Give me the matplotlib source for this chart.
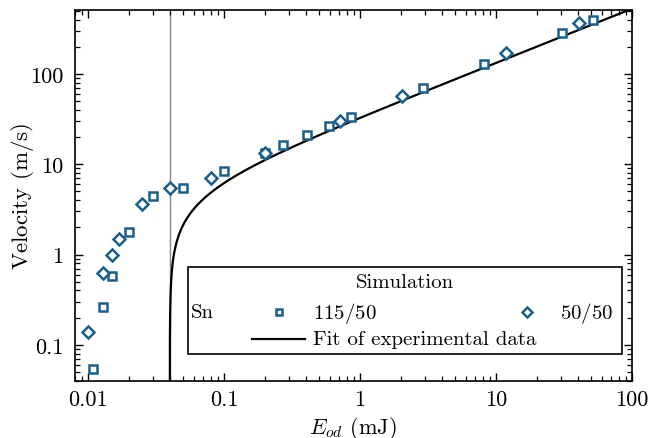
import numpy as np
import matplotlib
matplotlib.use("Agg")
import matplotlib.pyplot as plt
from matplotlib.patches import Rectangle
from matplotlib.ticker import FixedLocator, FixedFormatter, LogLocator, NullFormatter

plt.rcParams['font.family'] = 'serif'
plt.rcParams['font.serif'] = ['cmr10']
plt.rcParams['mathtext.fontset'] = 'cm'
plt.rcParams['axes.formatter.use_mathtext'] = True

# Simulation 115/50 (squares)
E_sq = [0.0109, 0.013, 0.015, 0.02, 0.03, 0.05, 0.1, 0.2, 0.27, 0.41, 0.59, 0.86, 2.9, 8.2, 30.7, 51.4]
v_sq = [0.054, 0.26, 0.58, 1.78, 4.4, 5.4, 8.4, 13.3, 16.4, 21.1, 26.4, 33.0, 69.5, 129, 284, 393]

# Simulation 50/50 (diamonds)
E_di = [0.01, 0.013, 0.015, 0.017, 0.025, 0.04, 0.081, 0.2, 0.71, 2.03, 11.9, 40.8]
v_di = [0.14, 0.63, 1.0, 1.5, 3.6, 5.4, 7.1, 13.5, 30.0, 57.5, 169, 364]

# fit of experimental data: v = A * (E - E0)^b
E0 = 0.04
A = 33.4
b = 0.6

xticks = [0.01, 0.1, 1, 10, 100]
xticklabels = ['0.01', '0.1', '1', '10', '100']
yticks = [0.1, 1, 10, 100]
yticklabels = ['0.1', '1', '10', '100']

blue = '#1a5f8c'

fig = plt.figure(figsize=(6.63, 4.39), dpi=100)
ax = fig.add_axes([0.1127, 0.1305, 0.8405, 0.845])

dE = np.geomspace(1e-9, 100, 3000)
E_fit = E0 + dE
v_fit = A * dE ** b
ax.axvline(E0, color='#888888', lw=1.0, zorder=1)
ax.plot(E_fit, v_fit, color='black', lw=1.6, zorder=2)
ax.plot(E_sq, v_sq, 's', ms=6, mfc='white', mec=blue, mew=1.8, ls='none', zorder=3)
ax.plot(E_di, v_di, 'D', ms=6, mfc='white', mec=blue, mew=1.8, ls='none', zorder=3)

ax.set_xscale('log')
ax.set_yscale('log')
ax.set_xlim(0.008, 100)
ax.set_ylim(0.04, 515)

ax.xaxis.set_major_locator(FixedLocator(xticks))
ax.xaxis.set_major_formatter(FixedFormatter(xticklabels))
ax.yaxis.set_major_locator(FixedLocator(yticks))
ax.yaxis.set_major_formatter(FixedFormatter(yticklabels))
ax.xaxis.set_minor_locator(LogLocator(base=10, subs=np.arange(2, 10), numticks=20))
ax.yaxis.set_minor_locator(LogLocator(base=10, subs=np.arange(2, 10), numticks=20))
ax.xaxis.set_minor_formatter(NullFormatter())
ax.yaxis.set_minor_formatter(NullFormatter())

ax.tick_params(which='both', direction='in', top=True, right=True, labelsize=16)
ax.tick_params(which='major', length=6, width=1.0)
ax.tick_params(which='minor', length=3.5, width=0.9)
ax.tick_params(axis='x', which='major', pad=6)
ax.tick_params(axis='y', which='major', pad=8)
for s in ax.spines.values():
    s.set_linewidth(1.2)

ax.set_xlabel(r'$E_{od}$ (mJ)', fontsize=16, labelpad=4)
ax.set_ylabel(r'Velocity $(\mathrm{m}/\mathrm{s})$', fontsize=16.5, labelpad=-4)

# custom legend box
tr = ax.transAxes
ax.add_patch(Rectangle((0.203, 0.072), 0.779, 0.234, transform=tr, fill=True,
                       facecolor='white', edgecolor='black', lw=1.2, zorder=5))
ax.text(0.593, 0.266, 'Simulation', transform=tr, ha='center', va='center', fontsize=15, zorder=6)
ax.text(0.209, 0.185, 'Sn', transform=tr, ha='left', va='center', fontsize=15, zorder=6)
ax.plot([0.367], [0.185], 's', ms=5, mfc='white', mec=blue, mew=1.8, transform=tr, zorder=6)
ax.text(0.428, 0.185, r'$115/50$', transform=tr, ha='left', va='center', fontsize=15, zorder=6)
ax.plot([0.812], [0.185], 'D', ms=5, mfc='white', mec=blue, mew=1.8, transform=tr, zorder=6)
ax.text(0.871, 0.185, r'$50/50$', transform=tr, ha='left', va='center', fontsize=15, zorder=6)
ax.plot([0.318, 0.413], [0.112, 0.112], color='black', lw=1.6, transform=tr, zorder=6)
ax.text(0.428, 0.112, 'Fit of experimental data', transform=tr, ha='left', va='center', fontsize=15, zorder=6)

fig.savefig('out.png', dpi=100)
